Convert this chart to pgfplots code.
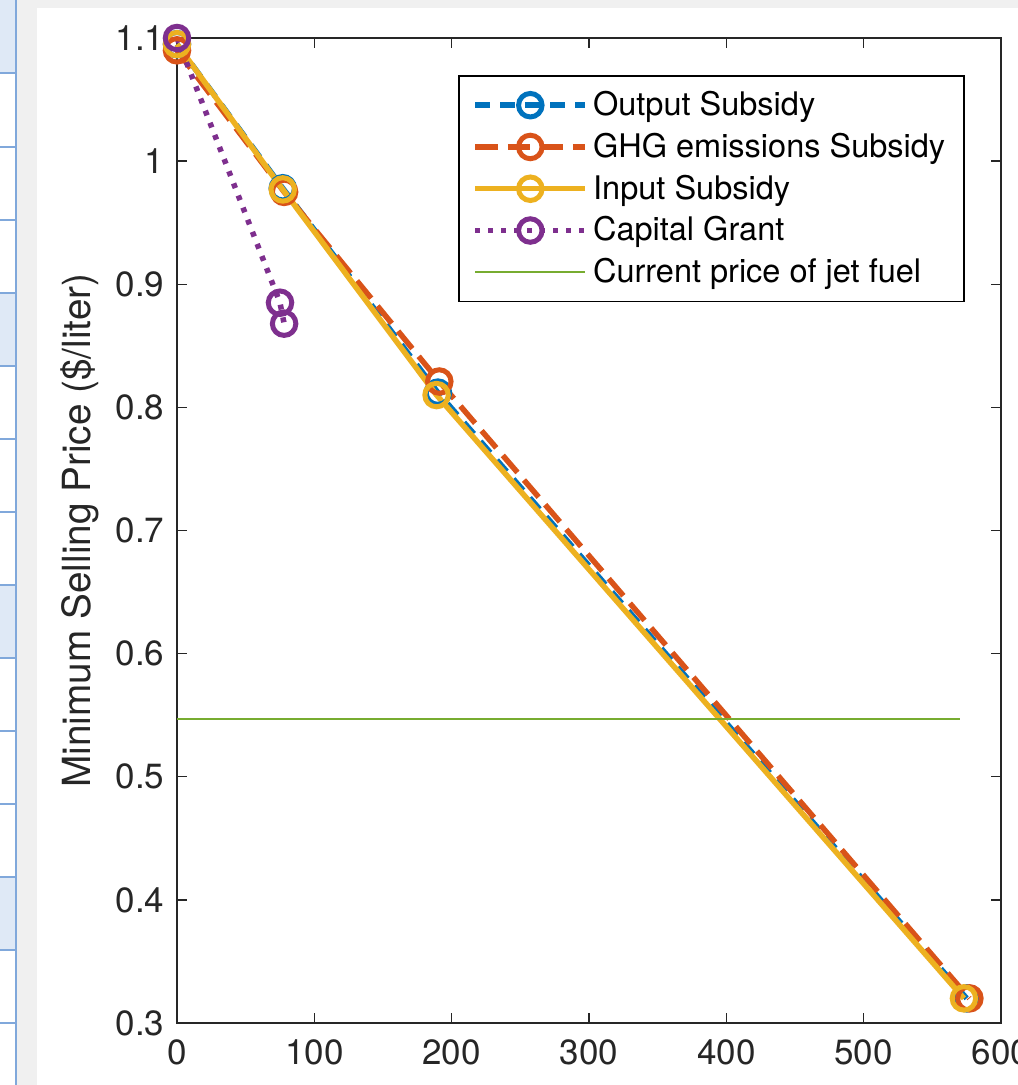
\documentclass[border=0pt]{standalone}
\usepackage{pgfplots}
\pgfplotsset{compat=1.18}
\usepackage{fontspec}
\setmainfont{TeX Gyre Heros}
\definecolor{mblue}{rgb}{0,0.447,0.741}
\definecolor{morange}{rgb}{0.85,0.325,0.098}
\definecolor{myellow}{rgb}{0.929,0.694,0.125}
\definecolor{mpurple}{rgb}{0.494,0.184,0.556}
\definecolor{mgreen}{rgb}{0.466,0.674,0.188}
\definecolor{axgray}{rgb}{0.15,0.15,0.15}
\definecolor{bggray}{rgb}{0.94,0.94,0.94}
\definecolor{cellblue}{rgb}{0.875,0.914,0.965}
\definecolor{cellline}{rgb}{0.50,0.66,0.86}
\begin{document}
\begin{tikzpicture}
\useasboundingbox (0pt,0pt) rectangle (407.2pt,434pt);
\clip (0pt,0pt) rectangle (407.2pt,434pt);
\begin{scope}[x=0.4pt,y=0.4pt]
\fill[bggray] (0,0) rectangle (1018,1085);
\fill[white] (37,0) rectangle (1018,1077);
\fill[white] (0,0) rectangle (16,1085);
\foreach \a/\b in {1085/1012, 792/719, 500/427, 208/135} \fill[cellblue] (0,\b) rectangle (16,\a);
\draw[cellline, line width=0.5pt] (16,0)--(16,1085);
\foreach \y in {1012,938,865,792,719,646,573,500,427,354,281,208,135,62} \draw[cellline, line width=0.5pt] (0,\y)--(16,\y);
\end{scope}
\begin{axis}[
  overlay,
  at={(70.8pt,24.8pt)}, anchor=south west,
  scale only axis, width=329.6pt, height=394pt,
  xmin=0, xmax=600, ymin=0.3, ymax=1.1,
  xtick={0,100,200,300,400,500,600},
  ytick={0.3,0.4,0.5,0.6,0.7,0.8,0.9,1,1.1},
  yticklabels={0.3,0.4,0.5,0.6,0.7,0.8,0.9,1,1.1},
  xticklabels={0,100,200,300,400,500,600},
  tick align=inside, tick pos=both,
  major tick length=4pt,
  axis line style={draw=axgray, line width=0.6pt},
  every tick/.style={draw=axgray, line width=0.6pt},
  ticklabel style={font=\fontsize{14}{14}\selectfont, text=axgray},
  xticklabel style={yshift=-3pt},
  yticklabel style={xshift=-1.5pt},
  ylabel={Minimum Selling Price (\$/liter)},
  ylabel style={font=\fontsize{15.5}{15.5}\selectfont, text=axgray, at={(axis description cs:-0.118,0.5)}, anchor=center},
  clip=false,
  legend cell align=left,
  legend style={at={(axis description cs:0.956,0.962)}, anchor=north east, draw=black, line width=0.6pt, fill=white,
    font=\fontsize{13}{13}\selectfont, row sep=1.5pt, inner xsep=5.5pt, inner ysep=4pt},
  legend image code/.code={\draw[mark repeat=2,mark phase=2] plot coordinates {(0pt,0pt) (22pt,0pt) (44pt,0pt)};},
  mark options={solid},
]
\addplot[mblue, line width=2.2pt, dash pattern=on 6pt off 4pt, mark=o, mark size=4.7pt, mark options={solid, line width=2pt}]
  coordinates {(0,1.095) (77,0.978) (190,0.812) (575,0.32)};
\addlegendentry{Output Subsidy}
\addplot[morange, line width=2.2pt, dash pattern=on 9pt off 4pt, mark=o, mark size=4.7pt, mark options={solid, line width=2pt}]
  coordinates {(0,1.09) (78,0.975) (191,0.821) (577,0.32)};
\addlegendentry{GHG emissions Subsidy}
\addplot[myellow, line width=2.2pt, mark=o, mark size=4.7pt, mark options={solid, line width=2pt}]
  coordinates {(0,1.095) (77,0.977) (189,0.81) (573,0.32)};
\addlegendentry{Input Subsidy}
\addplot[mpurple, line width=2.2pt, dash pattern=on 2pt off 3.2pt, mark=o, mark size=4.7pt, mark options={solid, line width=2pt}]
  coordinates {(0,1.1) (75,0.885) (78,0.868)};
\addlegendentry{Capital Grant}
\addplot[mgreen, line width=0.9pt]
  coordinates {(0,0.547) (570,0.547)};
\addlegendentry{Current price of jet fuel}
\end{axis}
\end{tikzpicture}
\end{document}
